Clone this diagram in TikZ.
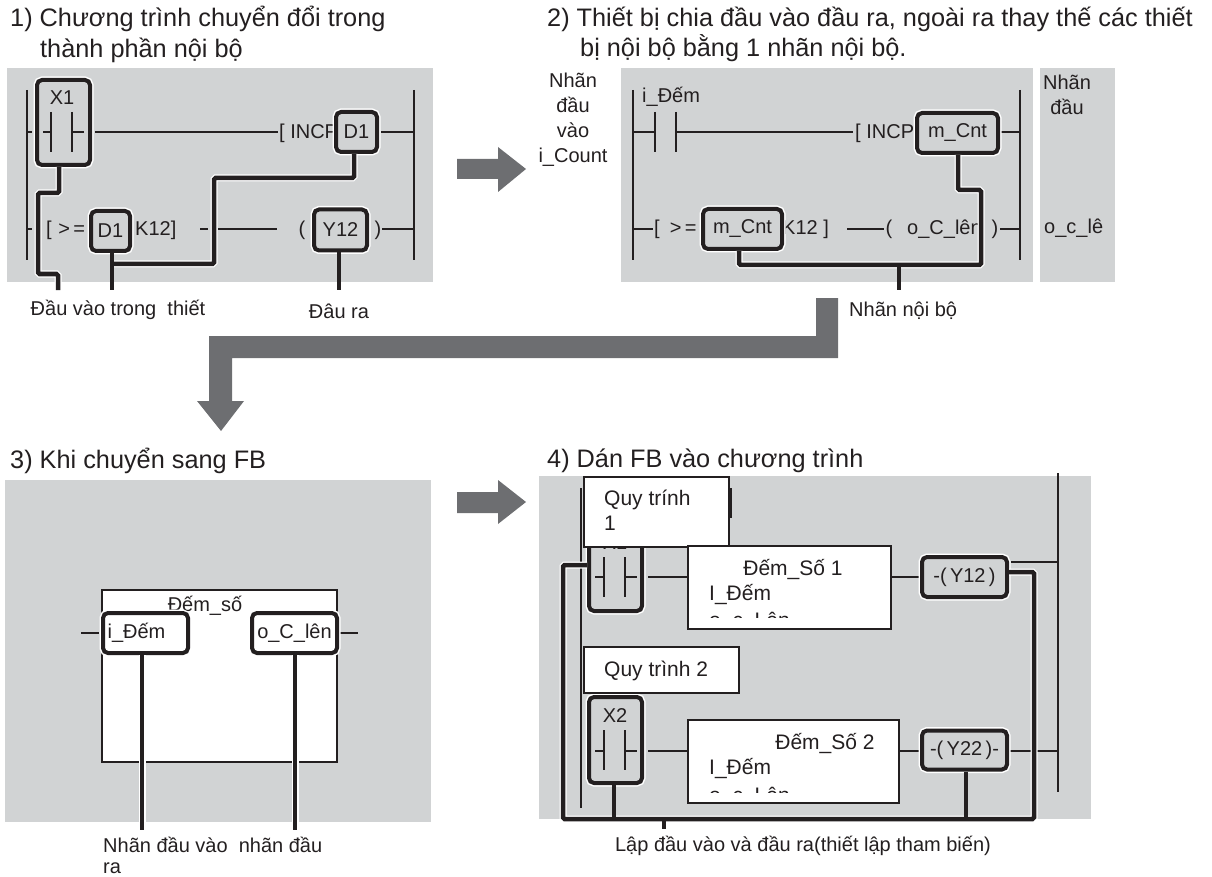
\documentclass[tikz,border=0pt]{standalone}
\usepackage{fontspec}
\setmainfont{Liberation Sans}
\usetikzlibrary{calc,positioning}
\definecolor{fbink}{RGB}{35,31,32}
\definecolor{fbpanel}{RGB}{209,211,212}
\definecolor{fbarrow}{RGB}{109,110,113}
\tikzset{
  panel/.style={fill=fbpanel, draw=none, inner sep=0pt},
  head/.style={font=\fontsize{25.3}{30}\selectfont, text=fbink, inner sep=0pt, anchor=base west},
  lbl/.style={font=\fontsize{20}{25}\selectfont, text=fbink, inner sep=0pt},
  devtxt/.style={lbl, font=\fontsize{20}{25}\selectfont},
  blocktxt/.style={lbl, font=\fontsize{21}{25}\selectfont},
  rail/.style={draw=fbink, line width=2.2pt},
  wire/.style={draw=fbink, line width=1.6pt},
  devbox/.style={
    preaction={draw=white, line width=7pt},
    draw=fbink, line width=4pt, rounded corners=5pt, fill=fbpanel,
    font=\fontsize{20}{24}\selectfont, text=fbink, inner sep=0pt
  },
  tie/.style={
    preaction={draw=white, line width=7pt},
    draw=fbink, line width=4.5pt, rounded corners=1.5pt
  },
  stub/.style={draw=fbink, line width=4.5pt},
  note/.style={fill=white, draw=fbink, line width=1.5pt, inner sep=0pt},
  bigarrow/.style={fill=fbarrow, draw=none}
}
\newcommand{\contact}[2]{% left bar x, rung y
  \draw[rail] (#1,#2-20) -- (#1,#2+20);
  \draw[rail] (#1+21,#2-20) -- (#1+21,#2+20);
}
\begin{document}
\begin{tikzpicture}[x=1pt,y=-1pt]
  \useasboundingbox (0,0) rectangle (1212,877);
  % headings
  \node[head] (h1a) at (10,27) {1) Chương trình chuyển đổi trong};
  \node[head] (h1b) at (40,58) {thành phần nội bộ};
  \node[head] (h2a) at (547,27) {2) Thiết bị chia đầu vào đầu ra, ngoài ra thay thế các thiết};
  \node[head] (h2b) at (580,57) {bị nội bộ bằng 1 nhãn nội bộ.};
  \node[head] (h3) at (10,468) {3) Khi chuyển sang FB};
  \node[head] (h4) at (547,467) {4) Dán FB vào chương trình};
  % panels
  \fill[panel] (7,68) rectangle (433,282);
  \fill[panel] (621,68) rectangle (1033,282);
  \fill[panel] (1040,68) rectangle (1115,282);
  \fill[panel] (5,480) rectangle (431,822);
  \fill[panel] (539,476) rectangle (1091,819);
  % big arrows
  \fill[bigarrow] (457,159) -- (498,159) -- (498,147) -- (526,169) -- (498,192) -- (498,179) -- (457,179) -- cycle;
  \fill[bigarrow] (457,492) -- (498,492) -- (498,480) -- (526,502) -- (498,524) -- (498,513) -- (457,513) -- cycle;
  \fill[bigarrow] (816,298) -- (838,298) -- (838,358) -- (232,358) -- (232,401) -- (244,401)
    -- (221,431) -- (197,401) -- (209,401) -- (209,336) -- (816,336) -- cycle;

  % panel 1
  \draw[rail] (27,90) -- (27,260);
  \draw[rail] (414,90) -- (414,260);
  \draw[wire] (27,132) -- (32,132);
  \draw[wire] (95,132) -- (278,132);
  \draw[wire] (381,132) -- (414,132);
  \draw[wire] (27,229) -- (32,229);
  \draw[wire] (200,229) -- (208,229);
  \draw[wire] (218,229) -- (277,229);
  \draw[wire] (382,229) -- (414,229);
  \node[devbox, minimum width=53pt, minimum height=85pt] (xa) at (63.5,122.5) {};
  \node[devtxt] (xalbl) at (62,98) {X1};
  \contact{51}{132}
  \draw[wire] (43,132) -- (51,132);
  \draw[wire] (72,132) -- (84,132);
  \node[devtxt, anchor=west] (inca) at (279,133) {[ INCP};
  \node[devbox, minimum width=41pt, minimum height=40pt] (da) at (356.5,132) {D1};
  \node[devtxt, anchor=west] (cmpa) at (46,230) {[\,\,>\,=};
  \node[devbox, minimum width=39pt, minimum height=40pt] (db) at (110.5,231) {D1};
  \node[devtxt, anchor=west] (ka) at (135,230) {K12]};
  \node[devtxt] (opa) at (302,230) {(};
  \node[devbox, minimum width=53pt, minimum height=41pt] (ya) at (340.5,230) {Y12};
  \node[devtxt] (cpa) at (378,230) {)};
  \coordinate (ina) at (58,290);
  \coordinate (inb) at (112,290);
  \coordinate (outa) at (339,290);
  \draw[tie] (xa.south -| 59,0) -- (59,193) -- (38,193) -- (38,274) -- (58,274) -- (ina);
  \draw[tie] (da.south -| 354,0) -- (354,178) -- (214,178) -- (214,264) -- (112,264);
  \draw[stub] (db.south -| inb) -- (inb);
  \draw[stub] (ya.south -| outa) -- (outa);
  \node[lbl] (la) at (118,310) {Đầu vào trong\ \ thiết};
  \node[lbl] (lb) at (339,311) {Đâu ra};

  % panel 2
  \draw[rail] (633,90) -- (633,260);
  \draw[rail] (1020,90) -- (1020,260);
  \contact{655}{132}
  \draw[wire] (633,132) -- (655,132);
  \draw[wire] (676,132) -- (853,132);
  \draw[wire] (1001,132) -- (1020,132);
  \draw[wire] (633,229) -- (653,229);
  \draw[wire] (847,229) -- (884,229);
  \draw[wire] (1000,229) -- (1020,229);
  \node[lbl, anchor=west] (ic) at (642,97) {i\_Đếm};
  \node[devtxt, anchor=west] (incb) at (855,133) {[ INCP};
  \node[devbox, minimum width=81pt, minimum height=40pt] (ma) at (957.5,133) {m\_Cnt};
  \node[devtxt, anchor=west] (cmpb) at (654,229) {[\,\,\,>\,=};
  \node[devtxt, anchor=west] (kb) at (782,229) {K12 ]};
  \node[devtxt] (opb) at (889,229) {(};
  \node[devtxt, anchor=west] (oc) at (907,229) {o\_C\_lên};
  \node[devtxt] (cpb) at (995,229) {)};
  \coordinate (nb) at (899,290);
  \node[devbox, minimum width=79pt, minimum height=40pt] (mb) at (742.5,229) {m\_Cnt};
  \draw[tie] (ma.south -| 958,0) -- (958,190) -- (981,190) -- (981,265) -- (739,265) -- (mb.south -| 739,0);
  \draw[stub] (nb |- 0,265) -- (nb);
  \node[lbl, align=center] (lc) at (573,120) {Nhãn\\đầu\\vào\\i\_Count};
  \node[lbl, align=center] (ld) at (1067,95) {Nhãn\\đầu};
  \node[lbl, anchor=west] (le) at (1044,228) {o\_c\_lê};
  \node[lbl, anchor=west] (lf) at (849,311) {Nhãn nội bộ};

  % panel 3
  \fill[white] (102,590) rectangle (337,762);
  \draw[rail] (102,590) rectangle (337,762);
  \draw[wire] (81,633) -- (99,633);
  \draw[wire] (340,633) -- (358,633);
  \node[devtxt] (fb) at (205,606) {Đếm\_số};
  \node[devbox, fill=white, minimum width=85pt, minimum height=40pt] (fi) at (145.5,633) {\hspace*{-18pt}i\_Đếm};
  \node[devbox, fill=white, minimum width=85pt, minimum height=40pt] (fo) at (294.5,633) {o\_C\_lên};
  \coordinate (fia) at (142,830);
  \coordinate (foa) at (295,830);
  \draw[tie] (fi.south -| fia) -- (fia);
  \draw[tie] (fo.south -| foa) -- (foa);
  \node[lbl, font=\fontsize{20}{21}\selectfont, align=left, anchor=north west] (lg) at (103,837) {Nhãn đầu vào\ \ nhãn đầu\\ra};

  % panel 4
  \draw[rail] (1058,473) -- (1058,792);
  \draw[rail] (581,488) -- (581,808);
  \draw[rail] (731,488) -- (731,518);
  \draw[wire] (1011,562) -- (1058,562);
  \draw[wire] (891,577) -- (919,577);
  \draw[wire] (648,577) -- (688,577);
  \draw[wire] (899,751) -- (919,751);
  \draw[wire] (648,751) -- (688,751);
  \draw[wire] (1010,751) -- (1058,751);
  \node[devbox, minimum width=53pt, minimum height=86pt] (xc) at (615.5,568) {};
  \node[devtxt] (xclbl) at (615,543) {X1};
  \contact{604}{577}
  \draw[wire] (595,577) -- (604,577);
  \draw[wire] (625,577) -- (637,577);
  \node[devbox, minimum width=53pt, minimum height=86pt] (xd) at (615.5,740) {};
  \node[devtxt] (xdlbl) at (615,716) {X2};
  \contact{604}{750}
  \draw[wire] (595,751) -- (604,751);
  \draw[wire] (625,751) -- (637,751);
  \node[note, minimum width=145pt, minimum height=70pt] (qa) at (656.5,512) {};
  \node[blocktxt, align=left, anchor=north west] (qat) at (604,490) {Quy trính\\1};
  \node[note, minimum width=155pt, minimum height=46pt] (qb) at (661.5,670) {};
  \node[blocktxt, anchor=west] (qbt) at (604,671) {Quy trình 2};
  % function blocks, third text line cut off
  \node[note, minimum width=203pt, minimum height=83pt] (ba) at (789.5,587.5) {};
  \node[blocktxt] (bat) at (793,570) {Đếm\_Số 1};
  \node[blocktxt, anchor=west] (bai) at (709,595) {I\_Đếm};
  \begin{scope}
    \clip (695,600) rectangle (800,617);
    \node[blocktxt, anchor=base west] (bao) at (709,627) {o\_c\_Lên};
  \end{scope}
  \node[note, minimum width=211pt, minimum height=83pt] (bb) at (793.5,761.5) {};
  \node[blocktxt] (bbt) at (825,744) {Đếm\_Số 2};
  \node[blocktxt, anchor=west] (bbi) at (709,769) {I\_Đếm};
  \begin{scope}
    \clip (695,775) rectangle (800,792);
    \node[blocktxt, anchor=base west] (bbo) at (709,802) {o\_c\_Lên};
  \end{scope}
  \node[devbox, minimum width=85pt, minimum height=40pt] (yc) at (964.5,577) {-(\,Y12\,)};
  \node[devbox, minimum width=85pt, minimum height=39pt] (yd) at (964.5,750) {-(\,Y22\,)-};
  \coordinate (tick) at (664,829);
  \draw[tie] (xc.west |- 0,565) -- (563,565) -- (563,819) -- (1034,819) -- (1034,572) -- (yc.east |- 0,572);
  \draw[stub] (xd.south -| 614,0) -- (614,819);
  \draw[stub] (yd.south -| 966,0) -- (966,819);
  \draw[stub] (tick |- 0,819) -- (tick);
  \node[lbl] (lh) at (803,846) {Lập đầu vào và đầu ra(thiết lập tham biến)};
\end{tikzpicture}
\end{document}
